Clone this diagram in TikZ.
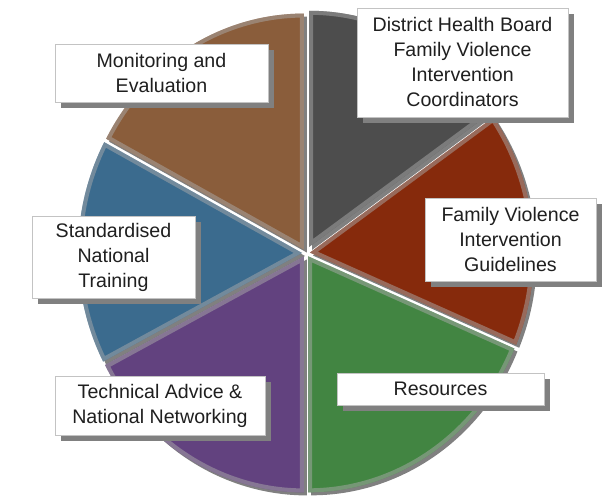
\documentclass[tikz,border=0pt]{standalone}
\usepackage{fontspec}
\setmainfont{Liberation Sans}
\usetikzlibrary{shadows}

\definecolor{sliceDark}{RGB}{77,77,77}
\definecolor{sliceRed}{RGB}{134,42,12}
\definecolor{sliceGreen}{RGB}{66,133,66}
\definecolor{slicePurple}{RGB}{98,66,127}
\definecolor{sliceBlue}{RGB}{59,107,142}
\definecolor{sliceBrown}{RGB}{138,93,59}
\definecolor{rimShadow}{RGB}{128,128,128}
\definecolor{rimLight}{RGB}{170,170,170}
\definecolor{boxEdge}{RGB}{195,195,195}

% pie geometry (pt)
\newcommand\pieCX{306}
\newcommand\pieCY{244}
\newcommand\pieRX{224}
\newcommand\pieRY{236}

% one exploded slice: [options]{start}{end}{explode}
\newcommand\pieslice[4][]{%
  \path[#1] (\pieCX,\pieCY) ++({(#2+#3)/2}:#4)
    -- ++(#2:\pieRX pt and \pieRY pt)
    arc[start angle=#2,end angle=#3,x radius=\pieRX pt,y radius=\pieRY pt]
    -- cycle;}

\tikzset{
  lbl/.style={draw=boxEdge, line width=0.8pt, fill=white, align=center,
    text=black!88, font=\fontsize{19.6}{25}\selectfont, inner sep=0pt,
    drop shadow={shadow xshift=6pt, shadow yshift=-6pt, fill=rimShadow, opacity=1}}
}

\begin{document}
\begin{tikzpicture}[x=1pt,y=1pt]
\useasboundingbox[fill=white] (0,0) rectangle (611,497);

% slice shadows
\foreach \a/\b/\e in {35/90/7, 90/152/4, 152/207.4/4, 207.4/270/4, 270/337/4, 337/395/4}{
  \pieslice[fill=rimShadow, shift={(3,-3)}]{\a}{\b}{\e}
}

% slices with a soft grey inner rim
\foreach \a/\b/\e/\c in {35/90/7/sliceDark, 90/152/4/sliceBrown, 152/207.4/4/sliceBlue,
                          207.4/270/4/slicePurple, 270/337/4/sliceGreen, 337/395/4/sliceRed}{
  \begin{scope}
    \pieslice[fill=\c]{\a}{\b}{\e}
    \pieslice[clip]{\a}{\b}{\e}
    \pieslice[draw=rimLight, draw opacity=0.5, line width=8pt]{\a}{\b}{\e}
  \end{scope}
}

% labels
\node[lbl, minimum width=211pt, minimum height=109pt] (coord) at (462.5,434.5)
  {District Health Board\\Family Violence\\Intervention\\Coordinators};
\node[lbl, minimum width=213pt, minimum height=58pt] (monitor) at (161.5,424)
  {Monitoring and\\Evaluation};
\node[lbl, minimum width=171pt, minimum height=83pt] (guide) at (510.5,257.5)
  {Family Violence\\Intervention\\Guidelines};
\node[lbl, minimum width=163pt, minimum height=82pt] (train) at (113.5,240)
  {Standardised\\National\\Training};
\node[lbl, minimum width=207pt, minimum height=32pt] (res) at (440.5,108)
  {Resources};
\node[lbl, minimum width=210pt, minimum height=59pt] (tech) at (160,91.5)
  {Technical Advice \&\\National Networking};
\end{tikzpicture}
\end{document}
